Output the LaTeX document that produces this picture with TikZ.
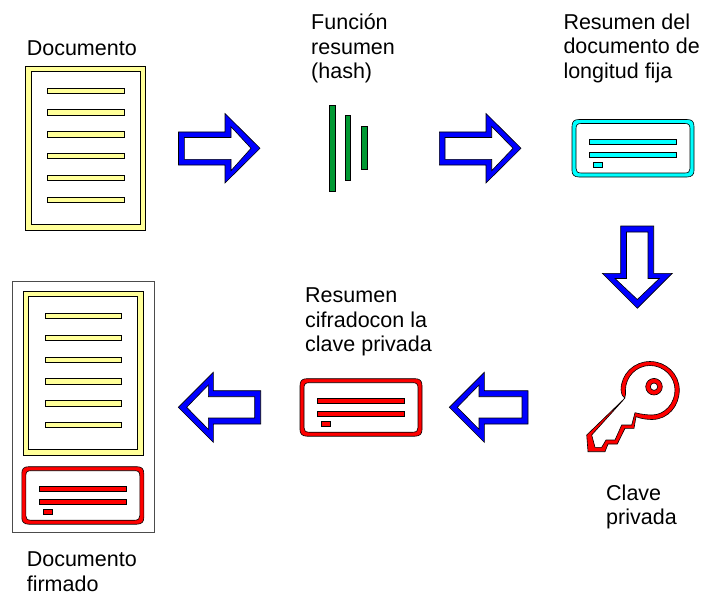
\documentclass[tikz,border=0pt]{standalone}
\usepackage{fontspec}
\setmainfont{Liberation Sans}
\definecolor{docy}{RGB}{255,255,153}
\definecolor{hashg}{RGB}{0,153,51}
\definecolor{cyanb}{RGB}{0,255,255}
\definecolor{arrowb}{RGB}{0,0,255}
\tikzset{x=1pt,y=-1pt,
 lab/.style={align=left,anchor=north west,inner sep=0pt,font=\fontsize{21.5}{24.6}\selectfont},
 arrowshape/.style={draw=black,fill=arrowb,line width=.6pt,even odd rule},
 docframe/.style={draw=black,fill=docy,line width=.7pt,even odd rule},
 docline/.style={draw=black,fill=docy,line width=.7pt},
 bar/.style={draw=black,fill=hashg,line width=.5pt},
 ccol/.style={draw=black,line width=.6pt,even odd rule},
 tline/.style={draw=black,line width=.6pt},
}
\newcommand{\docicon}[2]{%
 \begin{scope}[shift={(#1,#2)}]
 \path[docframe] (0,0) rectangle (120,164) (5.5,5.5) rectangle (114.5,158.5);
 \foreach \yy in {22,43.8,65.6,87.4,109.2,131}
  \path[docline] (21.8,\yy) rectangle (98.5,\yy+5.4);
 \end{scope}}
\newcommand{\cardicon}[3]{%
 \begin{scope}[shift={(#1,#2)}]
 \path[ccol,fill=#3] (7,0) -- (115,0) .. controls (120,0) and (122,2) .. (122,7) -- (122,51) .. controls (122,55) and (120,57.5) .. (115,57.5) -- (7,57.5) .. controls (2,57.5) and (0,55) .. (0,51) -- (0,7) .. controls (0,2) and (2,0) .. (7,0) -- cycle
 (9,4) -- (113,4) .. controls (116.5,4) and (118,5.5) .. (118,9) -- (118,49) .. controls (118,52) and (116.5,53.5) .. (113,53.5) -- (9,53.5) .. controls (5.5,53.5) and (4,52) .. (4,49) -- (4,9) .. controls (4,5.5) and (5.5,4) .. (9,4) -- cycle;
 \path[tline,fill=#3] (17.5,20) rectangle (104,25);
 \path[tline,fill=#3] (17.5,32.5) rectangle (104,37.5);
 \path[tline,fill=#3] (21.5,42.5) rectangle (30.5,47.8);
 \end{scope}}
\begin{document}
\begin{tikzpicture}
\useasboundingbox (0,0) rectangle (708,596);
\fill[white] (0,0) rectangle (708,596);
% document
\node[lab] (t1) at (26.6,40.3) {Documento};
\docicon{25.5}{66}
% arrow right 1
\path[arrowshape] (178.5,132) -- (225,132) -- (225,113.5) -- (260,148.3) -- (225,183) -- (225,165) -- (178.5,165) -- cycle
 (184.3,137.5) -- (231,137.5) -- (231,126.7) -- (251,148.3) -- (231,170.7) -- (231,159.3) -- (184.3,159.3) -- cycle;
% hash
\node[lab] (t2) at (311,13.6) {Función\\resumen\\(hash)};
\path[bar] (329,105) rectangle (335,191);
\path[bar] (345,115.5) rectangle (350.7,180.5);
\path[bar] (361.3,126.7) rectangle (367,169.3);
% arrow right 2
\path[arrowshape] (439.3,132) -- (486,132) -- (486,113.5) -- (521,148.3) -- (486,183) -- (486,165) -- (439.3,165) -- cycle
 (445,137.5) -- (491.7,137.5) -- (491.7,126.5) -- (513,148.3) -- (491.7,170.7) -- (491.7,159.3) -- (445,159.3) -- cycle;
% card cyan
\node[lab] (t3) at (563.3,13.6) {Resumen del\\documento de\\longitud fija};
\cardicon{572}{119.5}{cyanb}
% arrow down
\path[arrowshape] (620.7,226) -- (653.7,226) -- (653.7,273.3) -- (672.3,273.3) -- (637.3,308.3) -- (602.3,273.3) -- (620.7,273.3) -- cycle
 (626.5,232) -- (648,232) -- (648,278.5) -- (659.3,278.5) -- (637.3,299.5) -- (615,278.5) -- (626.5,278.5) -- cycle;
% key
\path[draw=black,fill=red,line width=.6pt,even odd rule]
 (636,416.7) .. controls (642,419) and (648,419.5) .. (652,419.5)
 .. controls (668,419.5) and (679.3,406) .. (679.3,390)
 .. controls (679.3,374) and (666,361.5) .. (650,361.5)
 .. controls (634,361.5) and (621,374) .. (621,390)
 .. controls (621,393) and (622,396) .. (625,398)
 -- (586.7,435) -- (588,451.7) -- (605,451.7) -- (608,444) -- (617.3,444) -- (625,428.3) -- (634,428.3) -- cycle
 (635,412.7) .. controls (642,414.5) and (648,415) .. (652,415)
 .. controls (665,415) and (675,403) .. (675,390)
 .. controls (675,377) and (664,365.5) .. (650,365.5)
 .. controls (636,365.5) and (625.5,377) .. (625.5,390)
 .. controls (625.5,393) and (626,396) .. (623.7,399.5)
 -- (591.7,435) -- (595,447.3) -- (601.7,447.3) -- (606,440) -- (615,440) -- (621.7,425) -- (631.7,425) -- cycle;
\path[draw=black,fill=red,line width=.6pt,even odd rule] (654,386.7) circle (8.3) (654,386.7) circle (3.7);
\node[lab] (t4) at (606,484.3) {Clave\\privada};
% arrow left 1
\path[arrowshape] (528,390.7) -- (484.3,390.7) -- (484.3,372.3) -- (449.3,407.3) -- (484.3,442.3) -- (484.3,424) -- (528,424) -- cycle
 (522,396.7) -- (479,396.7) -- (479,385) -- (457.3,407.3) -- (479,429.3) -- (479,418) -- (522,418) -- cycle;
% red card
\node[lab] (t5) at (305,287.5) {Resumen\\cifradocon la\\clave privada};
\cardicon{300}{378.7}{red}
% arrow left 2
\path[arrowshape] (260.7,390.7) -- (213.3,390.7) -- (213.3,372.3) -- (178.3,407.3) -- (213.3,442.3) -- (213.3,424) -- (260.7,424) -- cycle
 (254.7,396.7) -- (208.3,396.7) -- (208.3,385) -- (186.7,407.3) -- (208.3,429.3) -- (208.3,418) -- (254.7,418) -- cycle;
% signed
\path[draw=black!70,fill=white,line width=.7pt] (12,281.7) rectangle (154.7,532.7);
\docicon{23.2}{291.3}
\cardicon{21.8}{466.7}{red}
\node[lab] (t6) at (26.6,551.6) {Documento\\firmado};
\end{tikzpicture}
\end{document}
